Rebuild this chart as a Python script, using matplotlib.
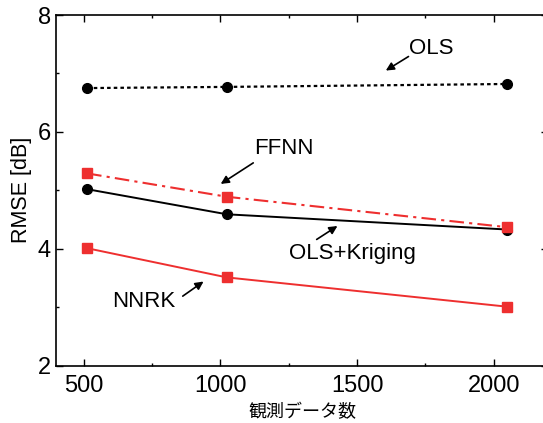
import matplotlib
matplotlib.use("Agg")
import matplotlib.pyplot as plt
from matplotlib.ticker import MultipleLocator

plt.rcParams['font.family'] = ['Liberation Sans', 'Noto Sans CJK JP', 'DejaVu Sans']

# data
n_obs = [512, 1024, 2048]
ols = [6.75, 6.77, 6.82]
ffnn = [5.29, 4.89, 4.37]
ols_kriging = [5.02, 4.59, 4.33]
nnrk = [4.01, 3.51, 3.01]

red = '#ee2f2f'

fig = plt.figure(figsize=(5.43, 4.23), dpi=100)
ax = fig.add_axes([0.104, 0.1355, 0.906, 0.829])

ax.plot(n_obs, ols, color='black', linestyle=(0, (1.6, 1.4)), lw=1.6,
        marker='o', markersize=7, zorder=3)
ax.plot(n_obs, ffnn, color=red, linestyle=(0, (7, 2.5, 1.5, 2.5)), lw=1.5,
        marker='s', markersize=7.5, zorder=4)
ax.plot(n_obs, ols_kriging, color='black', linestyle='-', lw=1.4,
        marker='o', markersize=7, zorder=3)
ax.plot(n_obs, nnrk, color=red, linestyle='-', lw=1.4,
        marker='s', markersize=7.5, zorder=4)

arrow = dict(arrowstyle='-|>', color='black', lw=1.2, mutation_scale=12,
             shrinkA=0, shrinkB=0)
# (label, text position, arrow tail, arrow tip)
notes = [
    ("OLS", (1690, 7.42), (1688, 7.29), (1605, 7.05)),
    ("FFNN", (1125, 5.72), (1120, 5.47), (1001, 5.11)),
    ("OLS+Kriging", (1250, 3.92), (1352, 4.16), (1428, 4.39)),
    ("NNRK", (605, 3.10), (862, 3.19), (938, 3.44)),
]
for label, txt, tail, tip in notes:
    ax.text(txt[0], txt[1], label, fontsize=16, ha='left', va='center')
    ax.annotate("", xy=tip, xytext=tail, arrowprops=arrow)

ax.set_xlim(400, 2200)
ax.set_ylim(2, 8)
ax.set_xticks([500, 1000, 1500, 2000])
ax.set_yticks([2, 4, 6, 8])
ax.xaxis.set_minor_locator(MultipleLocator(250))
ax.yaxis.set_minor_locator(MultipleLocator(1))
ax.tick_params(which='both', direction='in', top=True, right=True, width=1.0)
ax.tick_params(which='major', length=5, labelsize=17, pad=4)
ax.tick_params(axis='x', which='major', pad=7)
ax.tick_params(which='minor', length=2.5)
for s in ax.spines.values():
    s.set_linewidth(1.2)

ax.set_xlabel("観測データ数", fontsize=13, family=['Noto Sans CJK JP'], labelpad=4)
ax.set_ylabel("RMSE [dB]", fontsize=15.5, labelpad=4)

fig.savefig("out.png", dpi=100)
